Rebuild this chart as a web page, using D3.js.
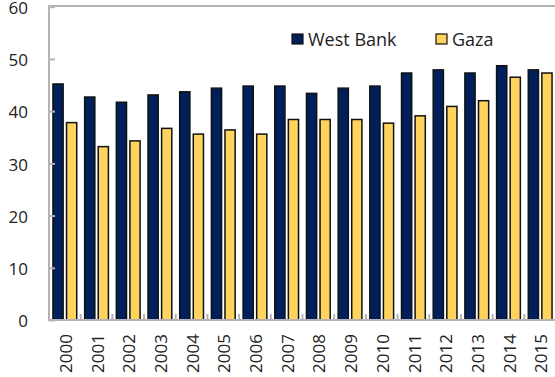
<!DOCTYPE html>
<html><head><meta charset="utf-8">
<script src="https://cdn.jsdelivr.net/npm/d3@7"></script>
<style>
html,body{margin:0;padding:0;background:#fff;}
svg{display:block;}
text{font-family:"Open Sans","Noto Sans",sans-serif;fill:#222;}
</style></head>
<body>
<svg id="chart" width="555" height="377"></svg>
<script>
const years = ["2000","2001","2002","2003","2004","2005","2006","2007","2008","2009","2010","2011","2012","2013","2014","2015"];
const seriesNames = ["West Bank","Gaza"];
const westBank = [45.2,42.7,41.7,43.1,43.7,44.4,44.8,44.8,43.4,44.4,44.8,47.3,47.9,47.3,48.7,47.9];
const gaza =     [37.8,33.2,34.3,36.7,35.6,36.4,35.6,38.4,38.4,38.4,37.7,39.1,40.9,42.0,46.5,47.3];
const yTicks = [0,10,20,30,40,50,60];
const colors = ["#001f5b","#ffd35c"];

const svg = d3.select("#chart");
const mLeft = 49, mRight = 556, mTop = 6.7, mBottom = 320;

const x0 = d3.scaleBand().domain(years).range([mLeft,mRight]).paddingInner(0.25).paddingOuter(0.125);
const x1 = d3.scaleBand().domain(seriesNames).range([0,x0.bandwidth()]).paddingInner(0.25);
const y = d3.scaleLinear().domain([0,60]).range([mBottom,mTop]);

const data = years.map((yr,i)=>({year:yr, values:[westBank[i],gaza[i]]}));

// bars
const g = svg.append("g");
g.selectAll("g.grp").data(data).join("g").attr("class","grp")
 .attr("transform",d=>`translate(${x0(d.year)},0)`)
 .selectAll("rect").data(d=>d.values.map((v,k)=>({name:seriesNames[k],v,k})))
 .join("rect")
 .attr("x",d=>x1(d.name)).attr("width",x1.bandwidth())
 .attr("y",d=>y(d.v)).attr("height",d=>y(0)-y(d.v))
 .attr("fill",d=>colors[d.k]).attr("stroke","#111").attr("stroke-width",1.5);

// y axis
const yAxis = svg.append("g").attr("transform",`translate(${mLeft},0)`)
  .call(d3.axisLeft(y).tickValues(yTicks).tickSize(-6).tickPadding(21));
yAxis.select(".domain").remove();
yAxis.selectAll(".tick line").attr("stroke","#b4b4b4").attr("stroke-width",2);
yAxis.selectAll(".tick text").style("font-size","17px").attr("fill","#222").attr("dy","0.4em");
svg.append("line").attr("x1",mLeft).attr("x2",mLeft).attr("y1",y(60)-1.5).attr("y2",y(0)+1)
  .attr("stroke","#b4b4b4").attr("stroke-width",2);
// top border
svg.append("line").attr("x1",mLeft-1).attr("x2",555).attr("y1",y(60)-0.7).attr("y2",y(60)-0.7)
  .attr("stroke","#b4b4b4").attr("stroke-width",2);
// bottom axis line
svg.append("line").attr("x1",mLeft-1).attr("x2",555).attr("y1",y(0)).attr("y2",y(0))
  .attr("stroke","#b4b4b4").attr("stroke-width",2);

// category boundary ticks
const step = x0.step();
const bounds = years.slice(1).map(yr=>x0(yr)-step*x0.paddingInner()/2);
svg.selectAll("line.bt").data(bounds).join("line").attr("class","bt")
  .attr("x1",d=>d).attr("x2",d=>d).attr("y1",y(0)).attr("y2",y(0)-6)
  .attr("stroke","#b4b4b4").attr("stroke-width",2);

// x labels
const xAxis = svg.append("g").attr("transform",`translate(0,${y(0)})`)
  .call(d3.axisBottom(x0).tickSize(0).tickPadding(0));
xAxis.select(".domain").remove();
xAxis.selectAll(".tick text")
  .style("font-size","17px").attr("fill","#222")
  .attr("text-anchor","end")
  .attr("transform","rotate(-90)")
  .attr("x",-14).attr("y",0).attr("dy","0.42em");

// legend
const legX = [292,436];
const leg = svg.append("g");
seriesNames.forEach((n,k)=>{
  leg.append("rect").attr("x",legX[k]).attr("y",34).attr("width",11).attr("height",10)
    .attr("fill",colors[k]).attr("stroke","#111").attr("stroke-width",1.2);
  leg.append("text").attr("x",legX[k]+16).attr("y",45.5).text(n).style("font-size","18px").attr("fill","#222");
});
</script>
</body></html>
